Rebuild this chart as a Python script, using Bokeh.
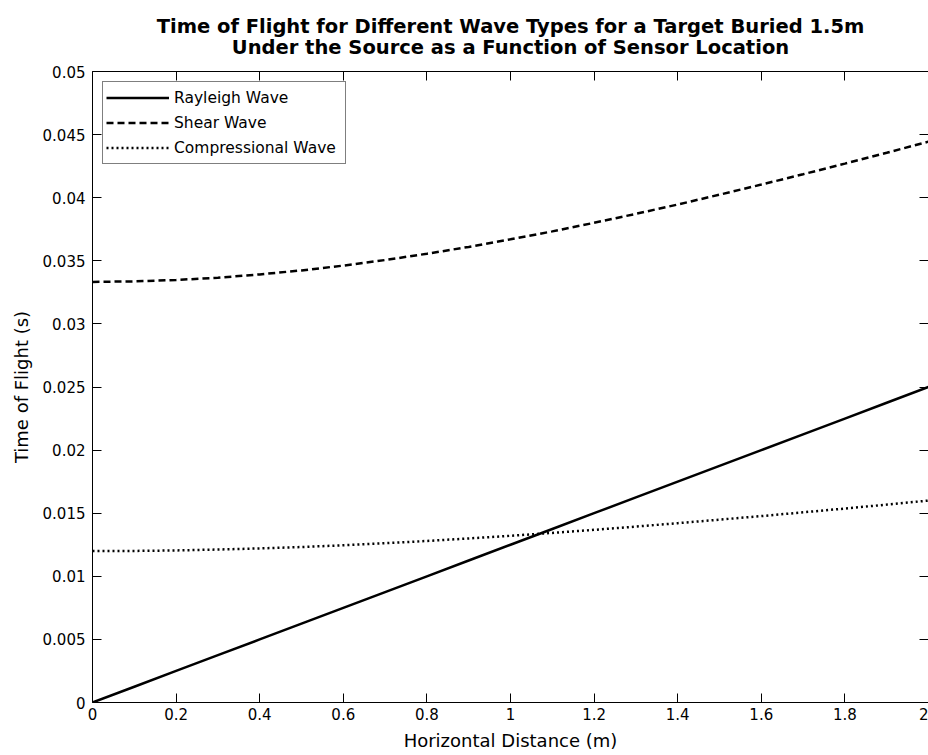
from bokeh.plotting import figure
from bokeh.models import (LinearAxis, FixedTicker, CustomJSTickFormatter, Title,
                          Range1d, CustomLabelingPolicy)
from bokeh.embed import file_html
from bokeh.resources import INLINE

# ---- data ----
distance_m = [0.0, 0.1, 0.2, 0.3, 0.4, 0.5, 0.6, 0.7, 0.8, 0.9, 1.0,
              1.1, 1.2, 1.3, 1.4, 1.5, 1.6, 1.7, 1.8, 1.9, 2.0]
rayleigh_s = [0.0, 0.00125, 0.0025, 0.00375, 0.005, 0.00625, 0.0075, 0.00875,
              0.01, 0.01125, 0.0125, 0.01375, 0.015, 0.01625, 0.0175, 0.01875,
              0.02, 0.02125, 0.0225, 0.02375, 0.025]
shear_s = [0.03333, 0.03337, 0.03348, 0.03366, 0.03392, 0.03424, 0.03462,
           0.03506, 0.03556, 0.03610, 0.03670, 0.03733, 0.03801, 0.03872,
           0.03946, 0.04024, 0.04104, 0.04186, 0.04270, 0.04356, 0.04444]
compressional_s = [0.01200, 0.01201, 0.01205, 0.01212, 0.01221, 0.01232,
                   0.01246, 0.01262, 0.01280, 0.01300, 0.01321, 0.01344,
                   0.01368, 0.01394, 0.01421, 0.01449, 0.01477, 0.01507,
                   0.01537, 0.01568, 0.01600]
x_ticks = [0, 0.2, 0.4, 0.6, 0.8, 1.0, 1.2, 1.4, 1.6, 1.8, 2.0]
y_ticks = [0, 0.005, 0.01, 0.015, 0.02, 0.025, 0.03, 0.035, 0.04, 0.045, 0.05]
title_line1 = "Time of Flight for Different Wave Types for a Target Buried 1.5m"
title_line2 = "Under the Source as a Function of Sensor Location"
x_label = "Horizontal Distance (m)"
y_label = "Time of Flight (s)"

FONT = "DejaVu Sans"

p = figure(width=928, height=755, output_backend="svg", toolbar_location=None,
           x_range=Range1d(0, 2), y_range=Range1d(0, 0.05),
           min_border_left=92, min_border_right=0, min_border_top=71,
           min_border_bottom=53, title=None, x_axis_type=None, y_axis_type=None)
p.outline_line_color = None
p.background_fill_color = "white"
p.border_fill_color = "white"

fmt = CustomJSTickFormatter(code="return String(Number(tick.toFixed(4)));")


def style_axis(ax, ticks, show_labels=True, show_line=True):
    ax.ticker = FixedTicker(ticks=ticks)
    ax.formatter = fmt
    ax.major_tick_in = 9
    ax.major_tick_out = 0
    ax.minor_tick_in = 0
    ax.minor_tick_out = 0
    ax.major_tick_line_color = "black"
    ax.major_tick_line_width = 1
    ax.axis_line_color = "black" if show_line else None
    ax.axis_line_width = 1
    ax.major_label_text_font = FONT
    ax.major_label_text_font_size = "15px"
    ax.major_label_text_color = "black"
    if not show_labels:
        # ticks only (MATLAB box style): no labels drawn, no space taken
        ax.major_label_policy = CustomLabelingPolicy(code="return new Set()")
        ax.major_label_text_font_size = "0px"
        ax.major_label_standoff = 0
    ax.axis_label_text_font = FONT
    ax.axis_label_text_font_size = "18px"
    ax.axis_label_text_font_style = "normal"
    ax.axis_label_text_color = "black"


xb = LinearAxis(axis_label=x_label)
style_axis(xb, x_ticks)
xb.major_label_standoff = 5
xb.axis_label_standoff = 7
p.add_layout(xb, "below")

yl = LinearAxis(axis_label=y_label)
style_axis(yl, y_ticks)
yl.major_label_standoff = 7
yl.axis_label_standoff = 8
p.add_layout(yl, "left")

xt = LinearAxis()
style_axis(xt, x_ticks, show_labels=False)
p.add_layout(xt, "above")

yr = LinearAxis()
style_axis(yr, y_ticks, show_labels=False, show_line=False)
p.add_layout(yr, "right")

title = Title(text=title_line1 + "\n" + title_line2, align="center",
              text_font=FONT, text_font_size="19.5px", text_font_style="bold",
              text_color="black", text_line_height=0.92, standoff=25)
title.text_align = "center"
p.add_layout(title, "above")

p.line(distance_m, rayleigh_s, line_color="black", line_width=2.5,
       legend_label="Rayleigh Wave")
p.line(distance_m, shear_s, line_color="black", line_width=2.5,
       line_dash="7 4", legend_label="Shear Wave")
p.line(distance_m, compressional_s, line_color="black", line_width=2.5,
       line_dash="2 3", legend_label="Compressional Wave")

lg = p.legend[0]
lg.location = "top_left"
lg.margin = 10
lg.padding = 3
lg.spacing = 0
lg.glyph_width = 63
lg.glyph_height = 25
lg.label_height = 25
lg.label_width = 168
lg.label_standoff = 5
lg.label_text_font = FONT
lg.label_text_font_size = "15.5px"
lg.label_text_color = "black"
lg.border_line_color = "black"
lg.border_line_width = 1
lg.background_fill_color = "white"
lg.background_fill_alpha = 1.0

open("out.html", "w").write(file_html(p, INLINE))
